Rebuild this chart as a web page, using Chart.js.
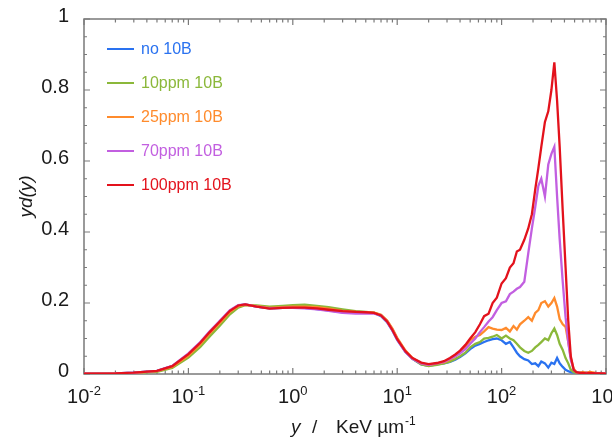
<!DOCTYPE html>
<html>
<head>
<meta charset="utf-8">
<script src="https://cdn.jsdelivr.net/npm/chart.js@4.4.0/dist/chart.umd.min.js"></script>
<style>
  html, body { margin: 0; padding: 0; background: #fff; }
  #wrap { width: 612px; height: 439px; }
</style>
</head>
<body>
<div id="wrap"><canvas id="lineal-energy"></canvas></div>
<script>
// lineal energy y (keV/um)
const energies = [
  0.01, 0.02, 0.03, 0.05, 0.07, 0.1, 0.13, 0.16, 0.2, 0.25,
  0.3, 0.35, 0.45, 0.6, 0.8, 1, 1.3, 1.7, 2.2, 3,
  4, 5, 6, 7, 8, 9, 10, 12, 14, 17,
  20, 24, 28, 32, 36, 40, 45, 50, 56, 62,
  68, 75, 82, 90, 100, 110, 120, 130, 140, 150,
  165, 180, 195, 210, 225, 240, 260, 280, 300, 320,
  340, 360, 385, 410, 435, 460, 490, 520, 560, 600,
  650, 700, 800, 900, 1000
];

// y d(y) for each boron concentration
const noBoron = [
  0.001, 0.002, 0.004, 0.009, 0.022, 0.056, 0.088, 0.118, 0.148, 0.178,
  0.193, 0.196, 0.19, 0.185, 0.186, 0.187, 0.186, 0.183, 0.179, 0.174,
  0.172, 0.172, 0.172, 0.163, 0.146, 0.122, 0.096, 0.062, 0.043, 0.027,
  0.023, 0.027, 0.03, 0.034, 0.04, 0.048, 0.058, 0.07, 0.08, 0.085,
  0.09, 0.095, 0.098, 0.1, 0.095, 0.085, 0.09, 0.075, 0.06, 0.05,
  0.042, 0.038, 0.028, 0.03, 0.022, 0.035, 0.03, 0.018, 0.032, 0.028,
  0.045, 0.03, 0.02, 0.012, 0.008, 0.005, 0.004, 0.003, 0.004, 0.003,
  0.004, 0.002, 0.002, 0.001, 0.001
];
const boron10ppm = [
  0.001, 0.002, 0.003, 0.006, 0.017, 0.046, 0.076, 0.106, 0.136, 0.168,
  0.187, 0.194, 0.193, 0.19, 0.192, 0.194, 0.195, 0.192, 0.188, 0.182,
  0.177, 0.175, 0.173, 0.166, 0.15, 0.126, 0.1, 0.064, 0.043, 0.027,
  0.022, 0.026, 0.03, 0.035, 0.042, 0.05, 0.06, 0.075, 0.085, 0.09,
  0.1, 0.102, 0.105, 0.11, 0.1, 0.108, 0.1, 0.095, 0.085, 0.075,
  0.065, 0.06, 0.065, 0.075, 0.082, 0.09, 0.1, 0.095, 0.115, 0.128,
  0.11, 0.085, 0.068, 0.045, 0.03, 0.012, 0.005, 0.003, 0.003, 0.002,
  0.002, 0.002, 0.002, 0.001, 0.001
];
const boron25ppm = [
  0.001, 0.002, 0.003, 0.008, 0.02, 0.052, 0.084, 0.114, 0.144, 0.175,
  0.191, 0.195, 0.191, 0.186, 0.188, 0.19, 0.19, 0.188, 0.184, 0.178,
  0.175, 0.174, 0.173, 0.167, 0.151, 0.128, 0.102, 0.066, 0.045, 0.03,
  0.025, 0.03, 0.033, 0.04, 0.05, 0.06, 0.075, 0.095, 0.105, 0.11,
  0.12, 0.132, 0.128, 0.125, 0.124, 0.13, 0.12, 0.135, 0.125, 0.14,
  0.15, 0.16, 0.15, 0.172, 0.18, 0.2, 0.205, 0.19, 0.2, 0.214,
  0.19, 0.155, 0.14, 0.133, 0.09, 0.045, 0.015, 0.006, 0.004, 0.005,
  0.004, 0.006, 0.003, 0.002, 0.001
];
const boron70ppm = [
  0.001, 0.002, 0.004, 0.009, 0.023, 0.058, 0.09, 0.12, 0.15, 0.18,
  0.194, 0.196, 0.19, 0.185, 0.186, 0.186, 0.185, 0.182, 0.178, 0.172,
  0.17, 0.171, 0.17, 0.165, 0.147, 0.123, 0.097, 0.062, 0.043, 0.03,
  0.026, 0.03, 0.034, 0.042, 0.05, 0.058, 0.07, 0.085, 0.1, 0.118,
  0.132, 0.148, 0.16, 0.18, 0.2, 0.205, 0.225, 0.232, 0.24, 0.245,
  0.26, 0.34, 0.41, 0.47, 0.53, 0.55, 0.5, 0.59, 0.62, 0.64,
  0.5, 0.38, 0.26, 0.16, 0.09, 0.04, 0.012, 0.005, 0.003, 0.002,
  0.003, 0.002, 0.002, 0.001, 0.001
];
const boron100ppm = [
  0.001, 0.002, 0.004, 0.009, 0.022, 0.056, 0.088, 0.118, 0.148, 0.178,
  0.193, 0.196, 0.19, 0.184, 0.186, 0.187, 0.187, 0.185, 0.181, 0.177,
  0.175, 0.174, 0.172, 0.165, 0.148, 0.124, 0.098, 0.064, 0.045, 0.032,
  0.028, 0.031, 0.036, 0.045, 0.055, 0.066, 0.082, 0.1, 0.118, 0.14,
  0.163, 0.17, 0.2, 0.215, 0.255, 0.27, 0.3, 0.312, 0.345, 0.35,
  0.378, 0.41, 0.45, 0.52, 0.58, 0.64, 0.71, 0.74, 0.8, 0.878,
  0.77, 0.64, 0.46, 0.3, 0.15, 0.05, 0.012, 0.005, 0.003, 0.003,
  0.002, 0.003, 0.002, 0.002, 0.001
];

const seriesLabels = ["no 10B", "10ppm 10B", "25ppm 10B", "70ppm 10B", "100ppm 10B"];
const seriesColors = ["#2a72f0", "#8bb83a", "#ff8b2c", "#c25fe0", "#e3121c"];
const seriesValues = [noBoron, boron10ppm, boron25ppm, boron70ppm, boron100ppm];

const yTickValues = [0, 0.2, 0.4, 0.6, 0.8, 1];
const xDecades = [-2, -1, 0, 1, 2, 3];

const FONT = "'Liberation Sans', Arial, sans-serif";
const AXIS_COLOR = "#7a7a7a";
const TEXT_COLOR = "#1a1a1a";

// frame, inner ticks, x labels, x title and legend
const framePlugin = {
  id: "frame",
  beforeDatasetsDraw(chart) {
    const { ctx, chartArea: a, scales } = chart;
    const xs = scales.x, ys = scales.y;
    ctx.save();
    ctx.strokeStyle = AXIS_COLOR;
    ctx.lineWidth = 1.5;
    ctx.strokeRect(a.left, a.top, a.right - a.left, a.bottom - a.top);

    ctx.lineWidth = 1.2;
    ctx.beginPath();
    // x ticks (bottom + top)
    xDecades.forEach((d) => {
      const px = xs.getPixelForValue(Math.pow(10, d));
      ctx.moveTo(px, a.bottom); ctx.lineTo(px, a.bottom - 6);
      ctx.moveTo(px, a.top); ctx.lineTo(px, a.top + 6);
      if (d < 3) {
        for (let m = 2; m <= 9; m++) {
          const pm = xs.getPixelForValue(m * Math.pow(10, d));
          ctx.moveTo(pm, a.bottom); ctx.lineTo(pm, a.bottom - 3.5);
          ctx.moveTo(pm, a.top); ctx.lineTo(pm, a.top + 3.5);
        }
      }
    });
    // y ticks (left + right)
    for (let i = 0; i <= 20; i++) {
      const v = i * 0.05;
      const py = ys.getPixelForValue(v);
      const len = i % 4 === 0 ? 6 : 3;
      ctx.moveTo(a.left, py); ctx.lineTo(a.left + len, py);
      ctx.moveTo(a.right, py); ctx.lineTo(a.right - len, py);
    }
    ctx.stroke();
    ctx.restore();
  },
  afterDraw(chart) {
    const { ctx, chartArea: a, scales } = chart;
    const xs = scales.x;
    ctx.save();
    ctx.fillStyle = TEXT_COLOR;
    ctx.textBaseline = "alphabetic";
    ctx.textAlign = "left";

    // decade labels 10^n
    xDecades.forEach((d) => {
      const px = xs.getPixelForValue(Math.pow(10, d));
      const exp = d < 0 ? "-" + Math.abs(d) : String(d);
      ctx.font = "20px " + FONT;
      const wBase = ctx.measureText("10").width;
      ctx.font = "13px " + FONT;
      const wExp = ctx.measureText(exp).width;
      const x0 = px - (wBase + wExp) / 2;
      ctx.font = "20px " + FONT;
      ctx.fillText("10", x0, 403);
      ctx.font = "13px " + FONT;
      ctx.fillText(exp, x0 + wBase, 395);
    });

    // x axis title
    ctx.font = "italic 19px " + FONT;
    ctx.fillText("y", 291, 433);
    ctx.font = "19px " + FONT;
    ctx.fillText("/", 312, 433);
    ctx.fillText("KeV \u00b5m", 336, 433);
    const wUnit = ctx.measureText("KeV \u00b5m").width;
    ctx.font = "12px " + FONT;
    ctx.fillText("-1", 336 + wUnit + 1, 425);

    // legend
    ctx.font = "16px " + FONT;
    ctx.textBaseline = "middle";
    seriesLabels.forEach((label, i) => {
      const yRow = 49 + i * 34;
      ctx.strokeStyle = seriesColors[i];
      ctx.lineWidth = 2;
      ctx.beginPath();
      ctx.moveTo(107, yRow);
      ctx.lineTo(134, yRow);
      ctx.stroke();
      ctx.fillStyle = seriesColors[i];
      ctx.fillText(label, 141, yRow + 1);
    });
    ctx.restore();
  }
};

const datasets = seriesValues.map((values, i) => ({
  label: seriesLabels[i],
  data: energies.map((x, k) => ({ x: x, y: values[k] })),
  borderColor: seriesColors[i],
  backgroundColor: seriesColors[i],
  borderWidth: 2.3,
  pointRadius: 0,
  tension: 0,
  fill: false,
  order: seriesValues.length - i
}));

new Chart(document.getElementById("lineal-energy"), {
  type: "line",
  data: { datasets: datasets },
  plugins: [framePlugin],
  options: {
    responsive: true,
    maintainAspectRatio: false,
    animation: false,
    devicePixelRatio: 1,
    layout: { padding: { top: 19, right: 6, left: 0, bottom: 0 } },
    plugins: {
      legend: { display: false },
      tooltip: { enabled: false }
    },
    scales: {
      x: {
        type: "logarithmic",
        min: 0.01,
        max: 1000,
        grid: { display: false },
        border: { display: false },
        ticks: { display: false },
        afterFit: (scale) => { scale.height = 65; }
      },
      y: {
        min: 0,
        max: 1,
        grid: { display: false },
        border: { display: false },
        afterBuildTicks: (scale) => {
          scale.ticks = yTickValues.map((v) => ({ value: v }));
        },
        ticks: {
          padding: 7,
          labelOffset: -3,
          color: TEXT_COLOR,
          font: { family: FONT, size: 20 },
          callback: (value) => String(Math.round(value * 10) / 10)
        },
        title: {
          display: true,
          text: "yd(y)",
          color: TEXT_COLOR,
          font: { family: FONT, size: 19, style: "italic" },
          padding: { top: 15, bottom: 0 }
        },
        afterFit: (scale) => { scale.width = 84; }
      }
    }
  }
});
</script>
</body>
</html>
